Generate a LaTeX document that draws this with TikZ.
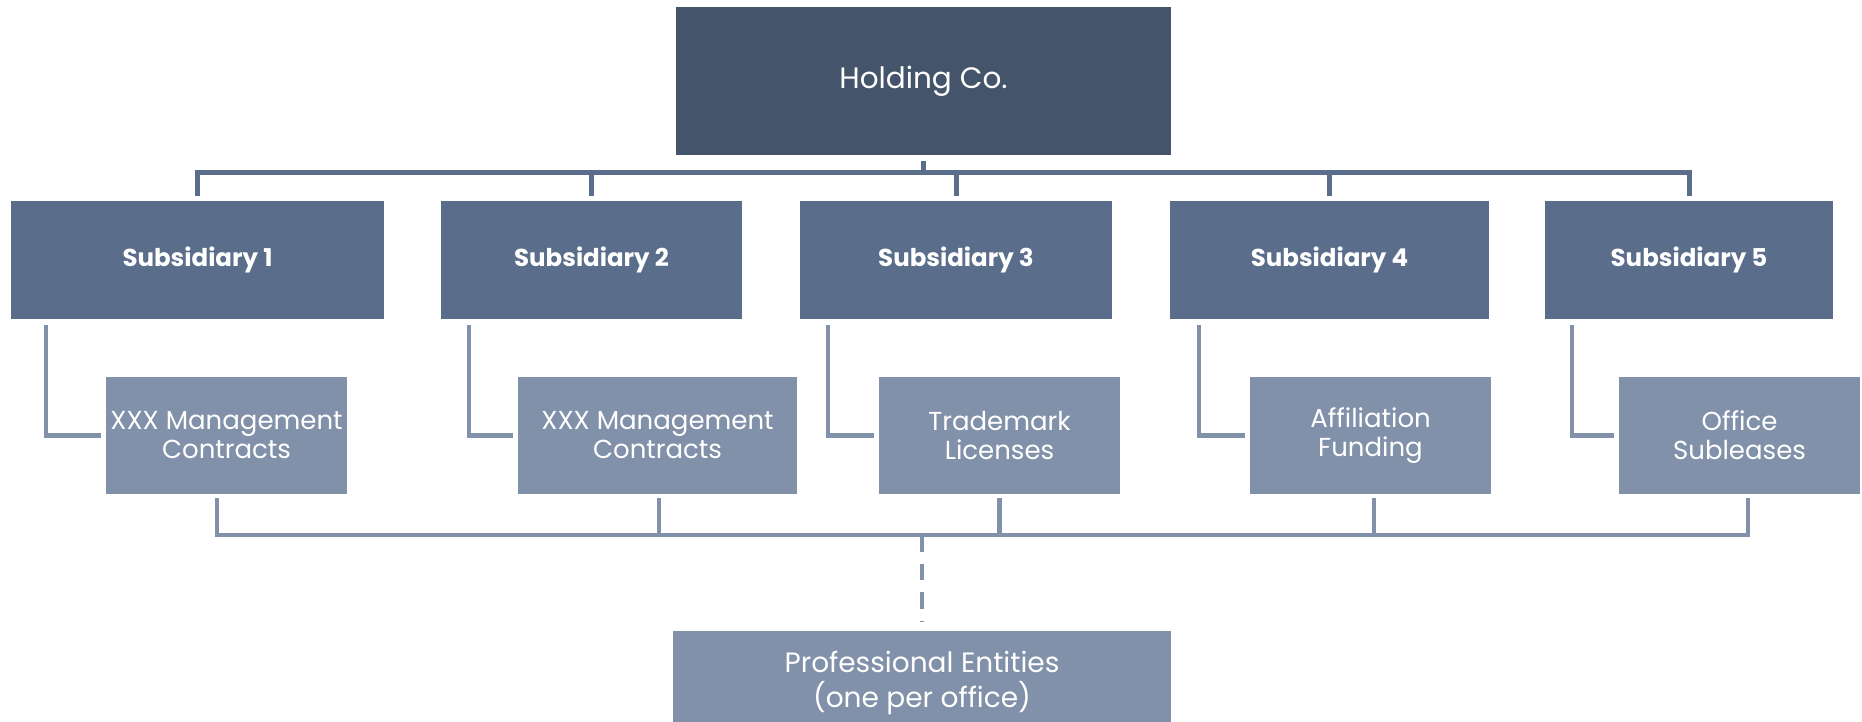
\documentclass[tikz,border=0pt]{standalone}
\usepackage{fontspec}
\setmainfont{Poppins}
\usepackage{tikz}

\definecolor{holdcol}{HTML}{44546A}
\definecolor{subcol}{HTML}{5A6E8B}
\definecolor{leafcol}{HTML}{8191A9}

\begin{document}
\begin{tikzpicture}[x=1pt,y=1pt,
		box/.style={rectangle, inner sep=0pt, align=center, text=white},
		holdbox/.style={box, fill=holdcol, minimum width=495pt, minimum height=148pt, font=\fontsize{29.5}{34}\selectfont},
		subbox/.style={box, fill=subcol, minimum height=118pt, font=\bfseries\fontsize{24.5}{28}\selectfont},
		leafbox/.style={box, fill=leafcol, minimum height=117pt, font=\fontsize{26}{29}\selectfont},
		bus/.style={draw=subcol, line width=5pt},
		leafbus/.style={draw=leafcol, line width=4.5pt}]
				\useasboundingbox (0,0) rectangle (1862,721);
				\node[holdbox] (hold) at (923.5,640) {Holding Co.};
				\node[subbox, minimum width=373pt] (s1) at (197.5,461) {Subsidiary 1};
				\node[subbox, minimum width=301pt] (s2) at (591.5,461) {Subsidiary 2};
				\node[subbox, minimum width=312pt] (s3) at (956,461) {Subsidiary 3};
				\node[subbox, minimum width=319pt] (s4) at (1329.5,461) {Subsidiary 4};
				\node[subbox, minimum width=288pt] (s5) at (1689,461) {Subsidiary 5};
				\node[leafbox, minimum width=241pt] (c1) at (226.5,285.5) {XXX Management\\Contracts};
				\node[leafbox, minimum width=279pt] (c2) at (657.5,285.5) {XXX Management\\Contracts};
				\node[leafbox, minimum width=241pt] (c3) at (999.5,285.5) {Trademark\\Licenses};
				\node[leafbox, minimum width=241pt] (c4) at (1370.5,285.5) {Affiliation\\Funding};
				\node[leafbox, minimum width=241pt] (c5) at (1739.5,285.5) {Office\\Subleases};
				\node[leafbox, minimum width=498pt, minimum height=104pt, font=\fontsize{28}{35}\selectfont] (prof) at (922,38) {Professional Entities\\(one per office)};
				\coordinate (topbus) at (923.5,548.5);
				\coordinate (lowbus) at (922,186);
				\draw[bus, shorten <=6pt] (hold.south) -- (topbus);
				\draw[bus, shorten >=5pt] (topbus) -| (s1.north);
				\draw[bus, shorten >=5pt] (topbus) -| (s2.north);
				\draw[bus, shorten >=5pt] (topbus) -| (s3.north);
				\draw[bus, shorten >=5pt] (topbus) -| (s4.north);
				\draw[bus, shorten >=5pt] (topbus) -| (s5.north);
				\draw[leafbus, shorten <=6pt, shorten >=5pt] ([xshift=35pt]s1.south west) |- (c1.west);
				\draw[leafbus, shorten <=6pt, shorten >=5pt] ([xshift=28pt]s2.south west) |- (c2.west);
				\draw[leafbus, shorten <=6pt, shorten >=5pt] ([xshift=28pt]s3.south west) |- (c3.west);
				\draw[leafbus, shorten <=6pt, shorten >=5pt] ([xshift=29pt]s4.south west) |- (c4.west);
				\draw[leafbus, shorten <=6pt, shorten >=5pt] ([xshift=27pt]s5.south west) |- (c5.west);
				\draw[leafbus, shorten <=4pt] ([xshift=-9.5pt]c1.south) |- (lowbus);
				\draw[leafbus, shorten <=4pt] ([xshift=1.5pt]c2.south) |- (lowbus);
				\draw[leafbus, shorten <=4pt] (c3.south) |- (lowbus);
				\draw[leafbus, shorten <=4pt] ([xshift=3.5pt]c4.south) |- (lowbus);
				\draw[leafbus, shorten <=4pt] ([xshift=8.5pt]c5.south) |- (lowbus);
				\draw[leafbus, dash pattern=on 16.5pt off 12pt, shorten >=9pt] (lowbus) -- (prof.north);
		\end{tikzpicture}
\end{document}
